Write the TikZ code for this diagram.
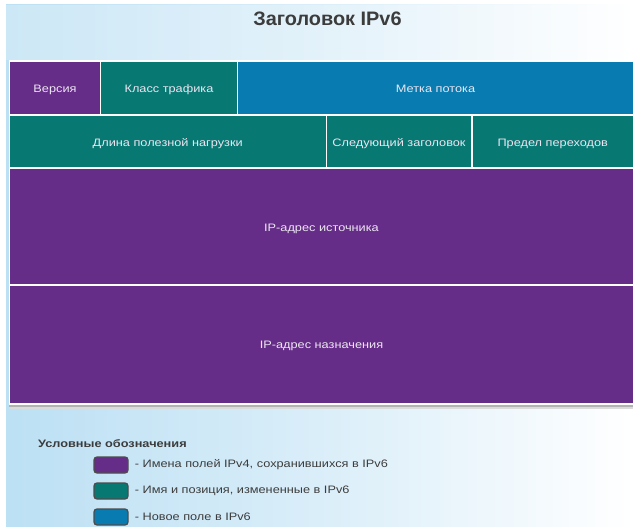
\documentclass[tikz,border=0pt]{standalone}
\usepackage{fontspec}
\setmainfont[FakeStretch=1.18]{Liberation Sans}
\newfontfamily\titlefont[FakeStretch=1.02]{Liberation Sans}
\usetikzlibrary{positioning}
\definecolor{cpurple}{RGB}{102,45,136}
\definecolor{cteal}{RGB}{8,120,114}
\definecolor{cblue}{RGB}{8,124,176}
\definecolor{bgL}{RGB}{188,224,244}
\definecolor{bgM}{RGB}{218,238,249}
\definecolor{celltext}{RGB}{236,230,242}
\definecolor{darktext}{RGB}{60,60,60}
\tikzset{
  cell/.style={fill=#1, draw=none, inner sep=0pt, text=celltext,
    text height=9pt, text depth=0pt,
    font=\fontsize{10.8}{12}\selectfont},
  swatch/.style={fill=#1, draw=black!70, line width=1.3pt, rounded corners=3pt,
    minimum width=34pt, minimum height=16pt, inner sep=0pt},
  legtext/.style={anchor=west, text=darktext, inner sep=0pt,
    font=\fontsize{10.8}{12}\selectfont},
}
\begin{document}
\begin{tikzpicture}[x=1pt,y=-1pt]
\useasboundingbox (0,0) rectangle (633,527);
% background
\fill[white] (0,0) rectangle (633,527);
\shade[left color=bgL, right color=white, middle color=bgM] (6,5) rectangle (633,527);
\fill[white, opacity=0.25] (6,5) rectangle (633,60);
% title
\node[font=\titlefont\bfseries\fontsize{19.5}{21}\selectfont, text=darktext] (title) at (327.5,19) {Заголовок IPv6};
% table frame and shadow
\fill[black!30] (9,404) rectangle (633,406.5);
\fill[black!14] (9,406.5) rectangle (633,409);
\fill[white] (9,60.5) rectangle (633,404.5);
% row 1
\node[cell=cpurple, minimum width=90pt, minimum height=52pt] (ver) at (55,88) {Версия};
\node[cell=cteal, minimum width=136pt, minimum height=52pt] (cls) at (169,88) {Класс трафика};
\node[cell=cblue, minimum width=395pt, minimum height=52pt] (flow) at (435.5,88) {Метка потока};
% row 2
\node[cell=cteal, minimum width=315.5pt, minimum height=51.5pt] (len) at (167.75,141.75) {Длина полезной нагрузки};
\node[cell=cteal, minimum width=144pt, minimum height=51.5pt] (nxt) at (399,141.75) {Следующий заголовок};
\node[cell=cteal, minimum width=160.5pt, minimum height=51.5pt] (hop) at (552.75,141.75) {Предел переходов};
% rows 3, 4
\node[cell=cpurple, minimum width=623pt, minimum height=115pt] (src) at (321.5,226.5) {IP-адрес источника};
\node[cell=cpurple, minimum width=623pt, minimum height=117.5pt] (dst) at (321.5,344.25) {IP-адрес назначения};
% legend
\node[anchor=west, inner sep=0pt, text=darktext, font=\bfseries\fontsize{10.8}{12}\selectfont] (leg) at (38,444) {Условные обозначения};
\node[swatch=cpurple] (s1) at (111,465) {};
\node[swatch=cteal] (s2) at (111,491) {};
\node[swatch=cblue] (s3) at (111,517) {};
\node[legtext, right=6pt of s1] (t1) {- Имена полей IPv4, сохранившихся в IPv6};
\node[legtext, right=6pt of s2] (t2) {- Имя и позиция, измененные в IPv6};
\node[legtext, right=6pt of s3] (t3) {- Новое поле в IPv6};
\end{tikzpicture}
\end{document}
